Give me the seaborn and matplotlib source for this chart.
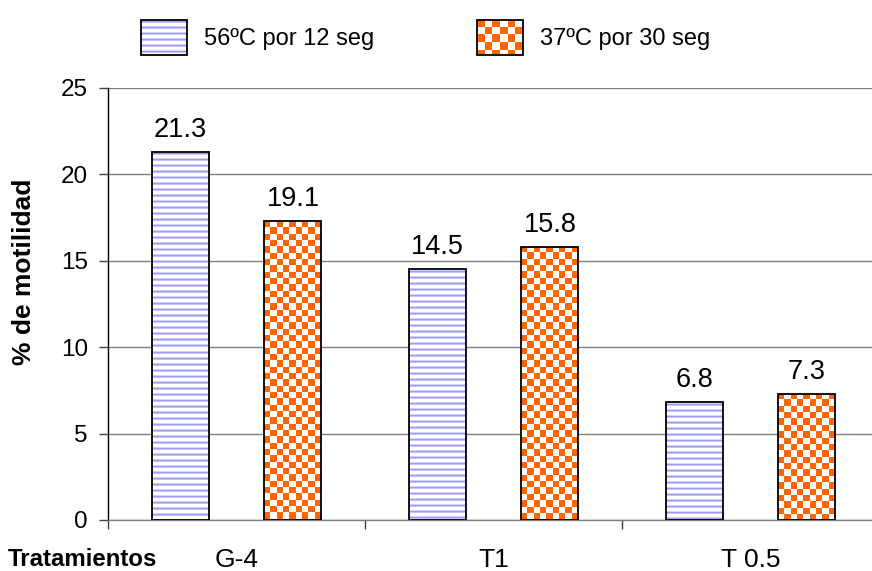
import numpy as np
import pandas as pd
import seaborn as sns
import matplotlib
matplotlib.use("Agg")
import matplotlib.pyplot as plt
from matplotlib.patches import Rectangle
from matplotlib.colors import to_rgb

# ---- data ----
categories = ["G-4", "T1", "T 0.5"]
series = ["56ºC por 12 seg", "37ºC por 30 seg"]
values_56 = [21.3, 14.5, 6.8]
values_37 = [17.3, 15.8, 7.3]          # drawn heights (as in the picture)
labels_56 = ["21.3", "14.5", "6.8"]
labels_37 = ["19.1", "15.8", "7.3"]    # printed labels (as in the picture)
y_ticks = [0, 5, 10, 15, 20, 25]

df = pd.DataFrame({
    "Tratamiento": categories * 2,
    "Serie": [series[0]] * 3 + [series[1]] * 3,
    "valor": values_56 + values_37,
})

sns.set_theme(style="white")
plt.rcParams["font.family"] = ["Liberation Sans", "DejaVu Sans"]
plt.rcParams["text.color"] = "black"
plt.rcParams["axes.labelcolor"] = "black"
plt.rcParams["xtick.labelcolor"] = "black"
plt.rcParams["ytick.labelcolor"] = "black"

W_PX, H_PX = 872, 571
fig = plt.figure(figsize=(W_PX / 100, H_PX / 100), dpi=100)
ax_l, ax_b, ax_w, ax_h = 108, 520, 771, 432
ax = fig.add_axes([ax_l / W_PX, 1 - ax_b / H_PX, ax_w / W_PX, ax_h / H_PX])

sns.barplot(data=df, x="Tratamiento", y="valor", hue="Serie",
            order=categories, hue_order=series,
            palette=["white", "white"], saturation=1,
            width=0.879, gap=0.4955, edgecolor="black", linewidth=1.3,
            errorbar=None, legend=False, ax=ax)

ax.set_xlim(-0.5, 2.5)
ax.set_ylim(0, 25)
px_x = ax_w / 3.0
px_y = ax_h / 25.0

ORANGE = np.array(to_rgb("#FF6600"))
WHITE = np.array([1.0, 1.0, 1.0])
stripe_cols = [WHITE, np.array(to_rgb("#D2D2FF")), np.array(to_rgb("#9C9CFA")),
               np.array(to_rgb("#C4C4FF")), WHITE, WHITE]


def checker(nr, nc):
    arr = np.zeros((nr, nc, 3))
    for r in range(nr):
        for c in range(nc):
            arr[r, c] = ORANGE if (r + c) % 2 == 0 else WHITE
    return arr


def stripes(nr):
    arr = np.zeros((nr, 1, 3))
    for r in range(nr):
        arr[r, 0] = stripe_cols[r % len(stripe_cols)]
    return arr


containers = ax.containers
for kind, cont, labs in zip(["stripe", "check"], containers, [labels_56, labels_37]):
    for p in cont:
        x, w, h = p.get_x(), p.get_width(), p.get_height()
        p.set_facecolor("none")
        p.set_zorder(3)
        if kind == "check":
            nc = 9
            cell_y = (w * px_x / nc) / px_y
            nr = int(np.ceil(h / cell_y))
            img = ax.imshow(checker(nr, nc), extent=(x, x + w, h - nr * cell_y, h),
                            aspect="auto", interpolation="nearest", zorder=2.5)
        else:
            nr = int(np.ceil(h * px_y))
            img = ax.imshow(stripes(nr), extent=(x, x + w, h - nr / px_y, h),
                            aspect="auto", interpolation="nearest", zorder=2.5)
        img.set_clip_path(p)
    ax.bar_label(cont, labels=labs, padding=6.5, fontsize=19.5, color="black")

ax.set_xlim(-0.5, 2.5)
ax.set_ylim(0, 25)

# grid & spines
ax.set_yticks(y_ticks)
ax.yaxis.grid(True, color="#808080", lw=1)
ax.xaxis.grid(False)
ax.set_axisbelow(True)
for s in ["top", "right"]:
    ax.spines[s].set_visible(False)
ax.spines["left"].set_color("black")
ax.spines["left"].set_linewidth(1)
ax.spines["bottom"].set_color("#808080")
ax.spines["bottom"].set_linewidth(1)

ax.tick_params(axis="y", direction="out", length=6.5, width=1, color="#404040",
               labelcolor="black", labelsize=17.5, pad=8, left=True)
ax.set_xticks(range(len(categories)))
ax.set_xticklabels(categories)
ax.set_xticks([-0.5, 0.5, 1.5, 2.5], minor=True)
ax.tick_params(axis="x", which="major", length=0, pad=20, labelsize=19,
               labelcolor="black", bottom=True)
ax.tick_params(axis="x", which="minor", direction="out", length=6.5, width=1,
               color="#404040", bottom=True)
ax.set_xlabel("")
ax.set_ylabel("% de motilidad", fontsize=19, fontweight="bold", color="black")
ax.yaxis.label.set_va("center")
ax.yaxis.set_label_coords((24 - ax_l) / ax_w, (ax_b - 272) / ax_h)

fig.text(82 / W_PX, 1 - 559 / H_PX, "Tratamientos", fontsize=17.3,
         fontweight="bold", ha="center", va="center", color="black")

# legend
fs = 17
fs_px = fs * 100 / 72
hh = (35 / fs_px - 0.245) / 0.65
handles = [Rectangle((0, 0), 1, 1, facecolor="none", edgecolor="black", lw=1.3)
           for _ in series]
leg = fig.legend(handles, series, loc="center", bbox_to_anchor=(425.5 / W_PX, 1 - 37 / H_PX),
                 ncol=2, frameon=False, fontsize=fs, labelcolor="black",
                 handlelength=46 / fs_px, handleheight=hh,
                 handletextpad=17 / fs_px, columnspacing=103 / fs_px,
                 borderpad=0, borderaxespad=0)

fig.canvas.draw()
renderer = fig.canvas.get_renderer()
for kind, p in zip(["stripe", "check"], leg.get_patches()):
    bbd = p.get_window_extent(renderer)
    bbf = bbd.transformed(fig.transFigure.inverted())
    lax = fig.add_axes(bbf.bounds)
    Wp, Hp = bbd.width, bbd.height
    if kind == "check":
        cell = Wp / 6
        nr = int(np.ceil(Hp / cell))
        lax.imshow(checker(nr, 6), extent=(0, Wp, Hp - nr * cell, Hp),
                   aspect="auto", interpolation="nearest")
    else:
        nr = int(np.ceil(Hp))
        lax.imshow(stripes(nr), extent=(0, Wp, Hp - nr, Hp),
                   aspect="auto", interpolation="nearest")
    lax.set_xlim(0, Wp)
    lax.set_ylim(0, Hp)
    lax.axis("off")

fig.savefig("out.png", dpi=100)
